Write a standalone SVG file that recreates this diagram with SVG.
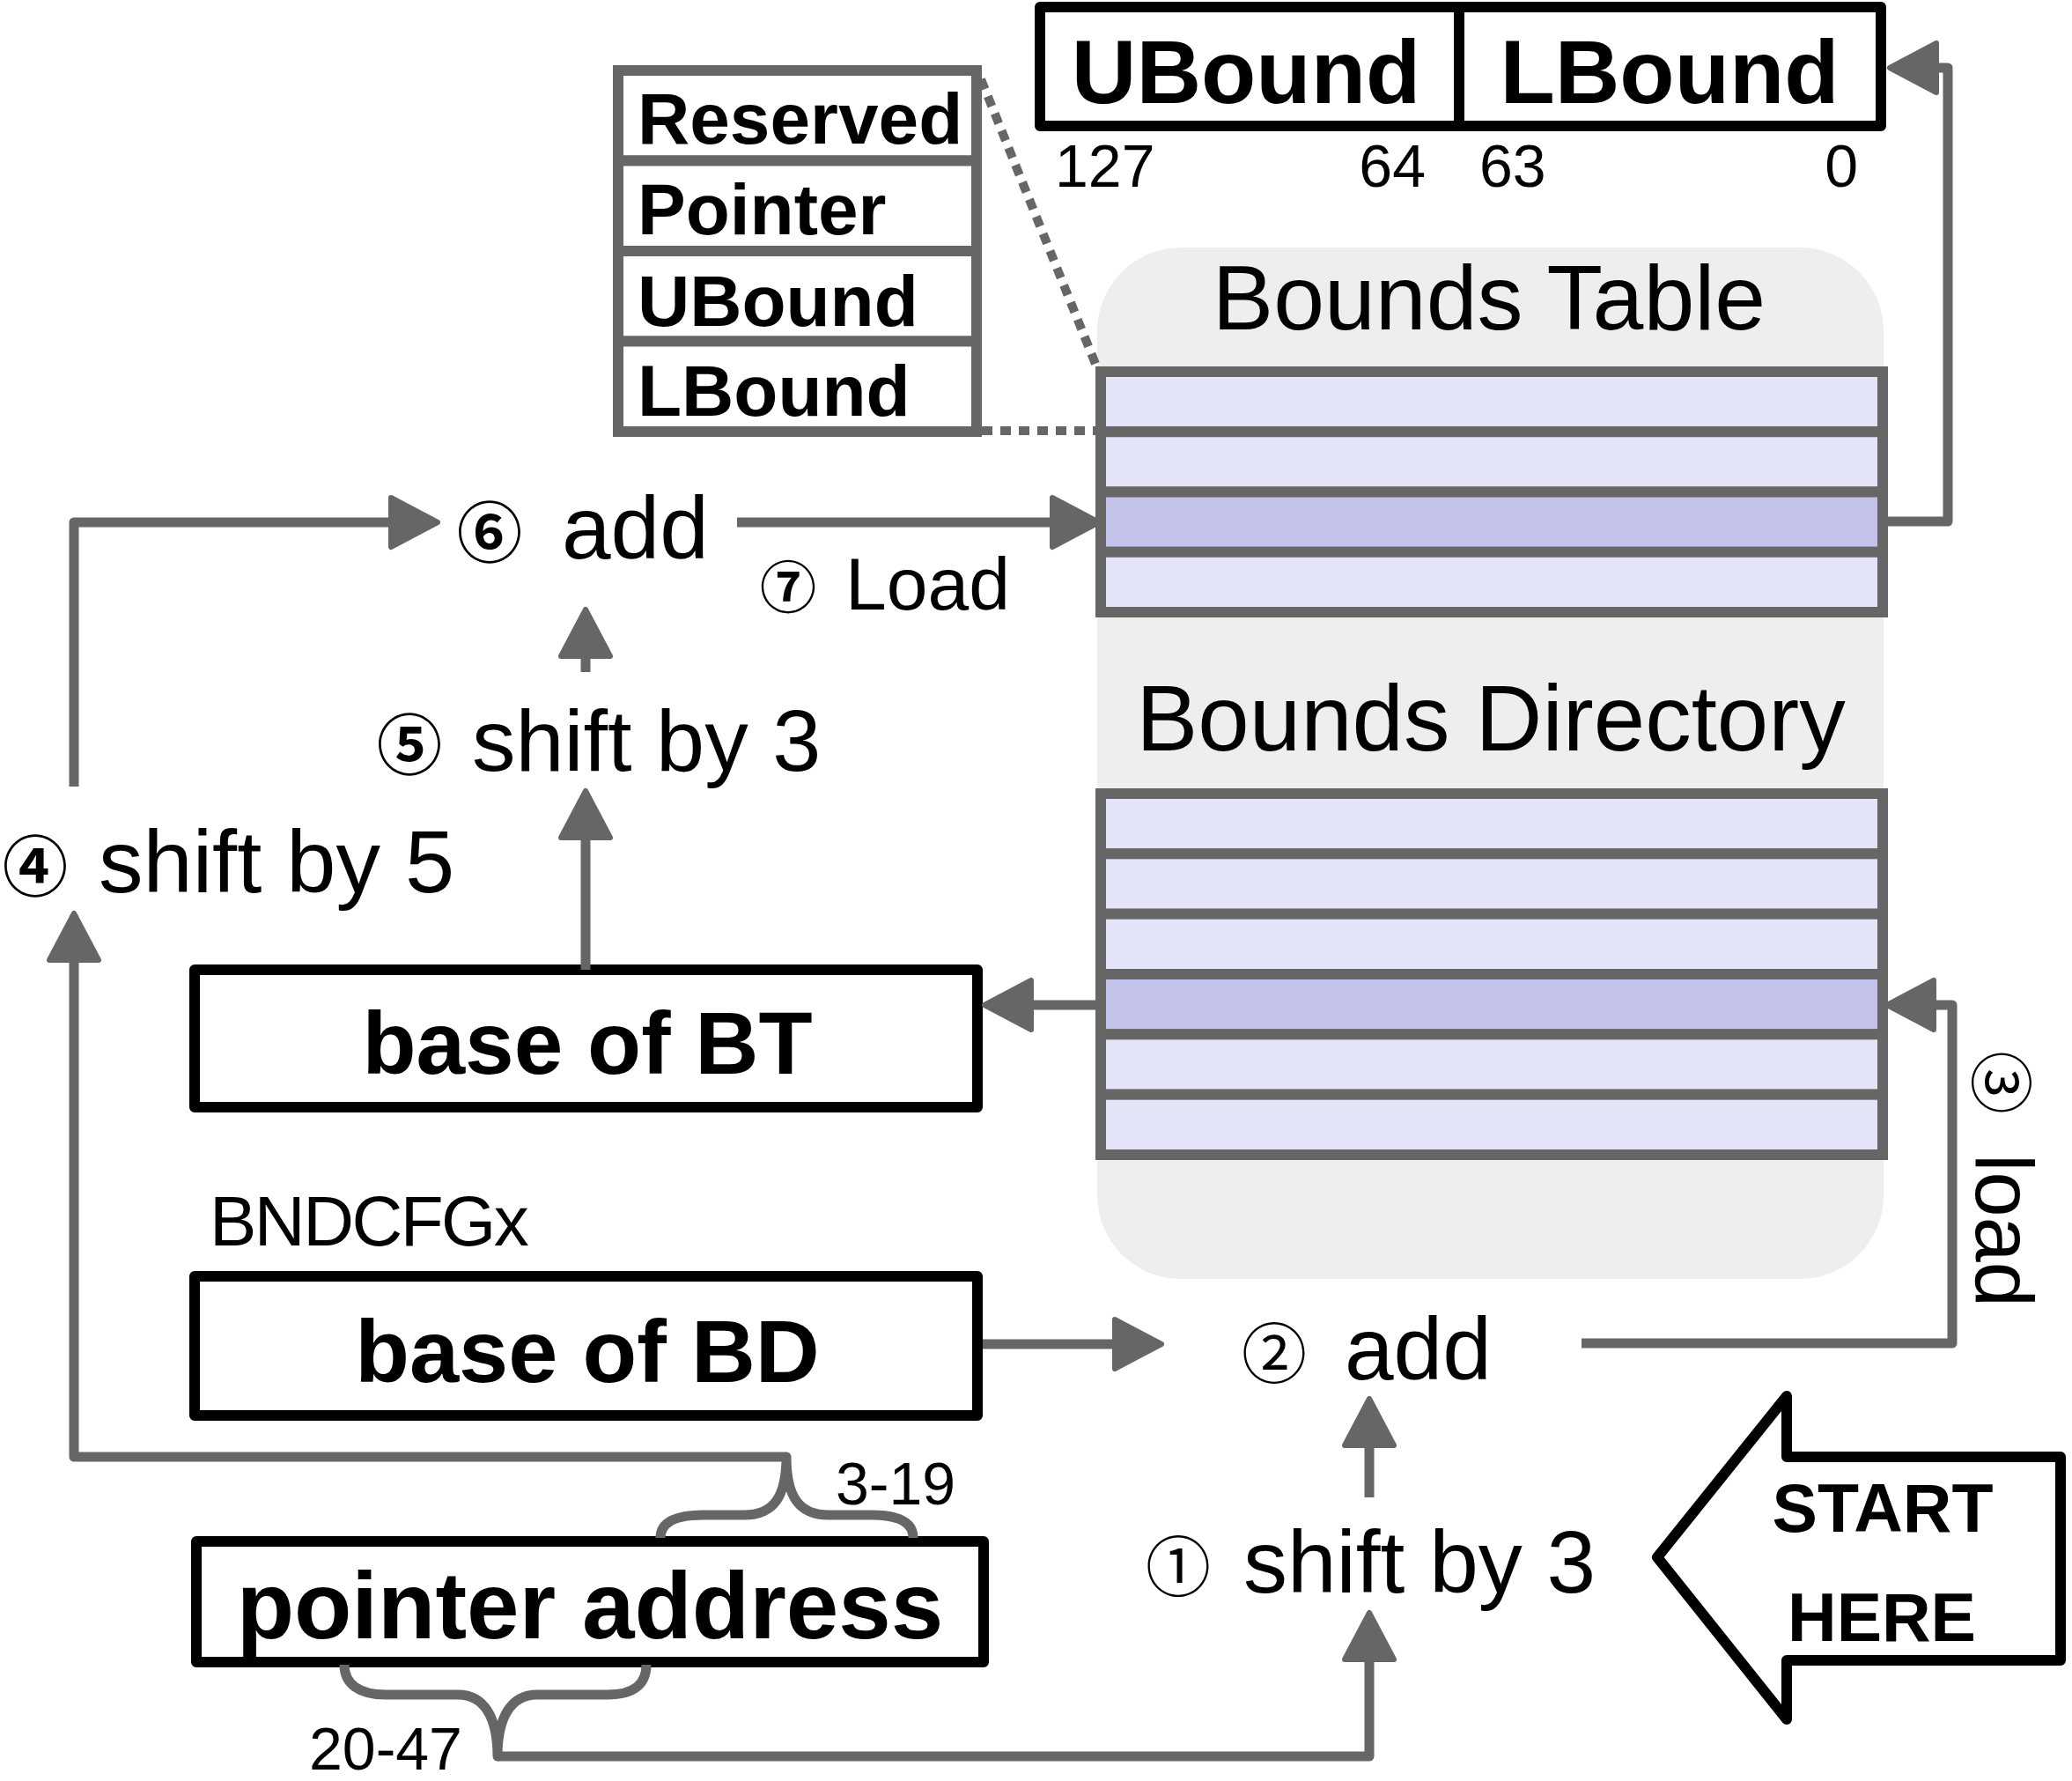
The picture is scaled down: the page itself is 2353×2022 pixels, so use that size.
<svg xmlns="http://www.w3.org/2000/svg" width="2353" height="2022" viewBox="0 0 2353 2022">
<style>
.t{font-family:"Liberation Sans",Arial,sans-serif;fill:#000}
.b{font-family:"Liberation Sans",Arial,sans-serif;font-weight:bold;fill:#000}
.cd{font-family:"Noto Sans CJK JP","DejaVu Sans",sans-serif;font-weight:bold;fill:#000;text-anchor:middle}
.cr{font-family:"Noto Sans CJK JP","DejaVu Sans",sans-serif;fill:#000;text-anchor:middle}
.con{fill:none;stroke:#666;stroke-width:11;stroke-linejoin:round}
.arr{marker-end:url(#ah)}
.dot{fill:none;stroke:#666;stroke-width:10;stroke-dasharray:12 9}
.row{fill:#e4e4f8;stroke:#666;stroke-width:12}
.hi{fill:#c3c2ea;stroke:#666;stroke-width:12}
.fld{fill:#fff;stroke:#666;stroke-width:12}
.box{fill:#fff;stroke:#000;stroke-width:12;stroke-linejoin:round}
</style>
<defs>
<marker id="ah" markerUnits="userSpaceOnUse" viewBox="0 0 62 64" markerWidth="62" markerHeight="64" refX="30" refY="32" orient="auto">
<path d="M4,4 L57,32 L4,60 Z" fill="#666" stroke="#666" stroke-width="6" stroke-linejoin="round"/>
</marker>
</defs>

<g id="panel">
<rect x="1246" y="281" width="893" height="1171" rx="95" ry="95" fill="#eeeeee"/>
<text class="t" x="1691" y="374" font-size="104" text-anchor="middle">Bounds Table</text>
<text class="t" x="1693" y="852" font-size="105" text-anchor="middle">Bounds Directory</text>
</g>

<g id="bounds-table">
<rect class="row" x="1250" y="422" width="888" height="68.25"/>
<rect class="row" x="1250" y="490.25" width="888" height="68.25"/>
<rect class="hi" x="1250" y="558.5" width="888" height="68.25"/>
<rect class="row" x="1250" y="626.75" width="888" height="68.25"/>
</g>

<g id="bounds-directory">
<rect class="row" x="1250" y="901" width="888" height="68.33"/>
<rect class="row" x="1250" y="969.33" width="888" height="68.33"/>
<rect class="row" x="1250" y="1037.67" width="888" height="68.33"/>
<rect class="hi" x="1250" y="1106" width="888" height="68.33"/>
<rect class="row" x="1250" y="1174.33" width="888" height="68.33"/>
<rect class="row" x="1250" y="1242.67" width="888" height="68.33"/>
</g>

<g id="entry-fields">
<rect class="fld" x="702" y="80" width="407" height="102.5"/>
<rect class="fld" x="702" y="182.5" width="407" height="102.5"/>
<rect class="fld" x="702" y="285" width="407" height="102.5"/>
<rect class="fld" x="702" y="387.5" width="407" height="102.5"/>
<text class="b" x="724" y="163" font-size="82">Reserved</text>
<text class="b" x="724" y="266" font-size="82">Pointer</text>
<text class="b" x="724" y="370" font-size="82">UBound</text>
<text class="b" x="724" y="472" font-size="82">LBound</text>
</g>

<g id="bounds-register">
<rect class="box" x="1181" y="8" width="955" height="135"/>
<line x1="1657" y1="8" x2="1657" y2="143" stroke="#000" stroke-width="12"/>
<text class="b" x="1415" y="117" font-size="102" text-anchor="middle">UBound</text>
<text class="b" x="1896" y="117" font-size="102" text-anchor="middle">LBound</text>
<text class="t" x="1198" y="212" font-size="68">127</text>
<text class="t" x="1619" y="212" font-size="68" text-anchor="end">64</text>
<text class="t" x="1680" y="212" font-size="68">63</text>
<text class="t" x="2110" y="212" font-size="68" text-anchor="end">0</text>
</g>

<g id="base-of-bt">
<rect class="box" x="221" y="1101" width="889" height="156"/>
<text class="b" x="667" y="1219" font-size="100" text-anchor="middle">base of BT</text>
</g>

<g id="bndcfgx">
<text class="t" x="238" y="1414" font-size="80" letter-spacing="-2.5">BNDCFGx</text>
</g>

<g id="base-of-bd">
<rect class="box" x="221" y="1449" width="889" height="158"/>
<text class="b" x="667" y="1569" font-size="101" text-anchor="middle">base of BD</text>
</g>

<g id="pointer-address">
<rect class="box" x="223" y="1750" width="894" height="137"/>
<text class="b" x="670" y="1860" font-size="107" text-anchor="middle">pointer address</text>
</g>

<g id="start-here">
<path d="M1882,1768 L2029,1585 L2029,1654 L2340,1654 L2340,1885 L2029,1885 L2029,1952 Z" fill="#fff" stroke="#000" stroke-width="12" stroke-linejoin="round"/>
<text class="b" x="2138" y="1739" font-size="77" text-anchor="middle">START</text>
<text class="b" x="2137" y="1863" font-size="77" text-anchor="middle">HERE</text>
</g>

<g id="step1">
<text class="cr" x="1338" y="1806" font-size="74">①</text>
<text class="t" x="1412" y="1808" font-size="100">shift by 3</text>
</g>
<g id="step2">
<text class="cr" x="1447" y="1564" font-size="74">②</text>
<text class="t" x="1527" y="1566" font-size="100">add</text>
</g>
<g id="step3" transform="translate(2244,1194) rotate(90)">
<text class="cr" x="35" y="-2" font-size="72">③</text>
<text class="t" x="116" y="0" font-size="92">load</text>
</g>
<g id="step4">
<text class="cd" x="40" y="1011" font-size="74">④</text>
<text class="t" x="112" y="1013" font-size="101">shift by 5</text>
</g>
<g id="step5">
<text class="cd" x="465" y="873" font-size="74">⑤</text>
<text class="t" x="536" y="875" font-size="99">shift by 3</text>
</g>
<g id="step6">
<text class="cd" x="556" y="632" font-size="74">⑥</text>
<text class="t" x="638" y="634" font-size="100">add</text>
</g>
<g id="step7">
<text class="cd" x="895" y="690" font-size="64">⑦</text>
<text class="t" x="960" y="692" font-size="84">Load</text>
</g>

<g id="bit-labels">
<text class="t" x="949" y="1708" font-size="68">3-19</text>
<text class="t" x="351" y="2009" font-size="68">20-47</text>
</g>

<g id="connectors">
<line class="dot" x1="1114" y1="90" x2="1246" y2="418"/>
<line class="dot" x1="1115" y1="489" x2="1244" y2="489"/>
<path class="con arr" d="M84,893 L84,593 L470,593"/>
<path class="con arr" d="M837,593 L1221,593"/>
<path class="con arr" d="M665,763 L665,719"/>
<path class="con arr" d="M665,1101 L665,925"/>
<path class="con arr" d="M893,1654 L84,1654 L84,1064"/>
<path class="con arr" d="M1244,1141 L1145,1141"/>
<path class="con arr" d="M1116,1526 L1292,1526"/>
<path class="con arr" d="M1796,1525 L2217,1525 L2217,1141 L2170,1141"/>
<path class="con arr" d="M2138,592 L2212,592 L2212,77 L2173,77"/>
<path class="con arr" d="M1555,1700 L1555,1615"/>
<path class="con arr" d="M565,1994 L1555,1994 L1555,1858"/>
<path class="con" d="M750,1746 C750,1728 768,1720 798,1720 L845,1720 C878,1720 893,1700 893,1654 C893,1700 908,1720 941,1720 L990,1720 C1020,1720 1037,1728 1037,1746"/>
<path class="con" d="M391,1890 C391,1912 408,1924 438,1924 L520,1924 C550,1924 565,1950 565,1994 C565,1950 580,1924 610,1924 L690,1924 C720,1924 734,1912 734,1890"/>
</g>
</svg>
